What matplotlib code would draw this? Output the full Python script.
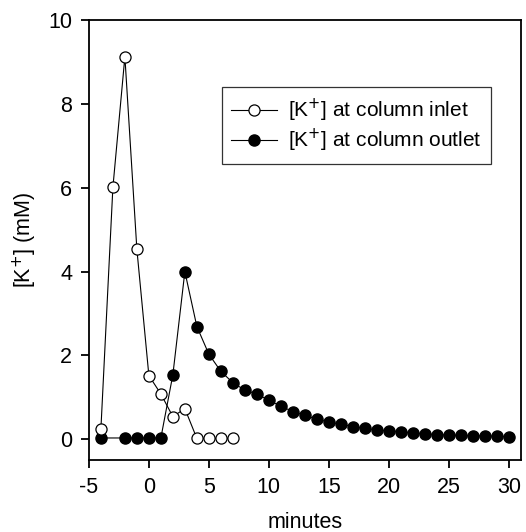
import matplotlib
matplotlib.use("Agg")
import matplotlib.pyplot as plt

plt.rcParams['font.family'] = ['Liberation Sans', 'DejaVu Sans']
plt.rcParams['axes.unicode_minus'] = False

inlet_x = [-4, -3, -2, -1, 0, 1, 2, 3, 4, 5, 6, 7]
inlet_y = [0.24, 6.01, 9.13, 4.53, 1.52, 1.08, 0.54, 0.73, 0.02, 0.02, 0.02, 0.02]

outlet_x = [-4, -2, -1, 0, 1, 2, 3, 4, 5, 6, 7, 8, 9, 10, 11, 12, 13, 14, 15,
            16, 17, 18, 19, 20, 21, 22, 23, 24, 25, 26, 27, 28, 29, 30]
outlet_y = [0.03, 0.03, 0.03, 0.03, 0.03, 1.54, 4.0, 2.69, 2.03, 1.62, 1.35,
            1.17, 1.08, 0.93, 0.79, 0.66, 0.57, 0.48, 0.41, 0.36, 0.30, 0.26,
            0.22, 0.20, 0.18, 0.15, 0.13, 0.11, 0.10, 0.09, 0.08, 0.08, 0.07, 0.06]

xticks = [-5, 0, 5, 10, 15, 20, 25, 30]
yticks = [0, 2, 4, 6, 8, 10]

fig = plt.figure(figsize=(5.26, 5.32), dpi=100)
ax = fig.add_axes([0.169, 0.135, 0.821, 0.827])

ax.plot(inlet_x, inlet_y, '-o', color='black', lw=0.8, ms=8,
        markerfacecolor='white', markeredgecolor='black', markeredgewidth=0.9,
        label='[K$^{+}$] at column inlet', zorder=3)
ax.plot(outlet_x, outlet_y, '-o', color='black', lw=0.8, ms=8,
        markerfacecolor='black', markeredgecolor='black',
        label='[K$^{+}$] at column outlet', zorder=2)

ax.set_xlim(-5, 31)
ax.set_ylim(-0.5, 10)
ax.set_xticks(xticks)
ax.set_yticks(yticks)
ax.tick_params(direction='out', length=6, width=1.3, labelsize=15.5, pad=6)
for s in ax.spines.values():
    s.set_linewidth(1.3)

ax.set_xlabel('minutes', fontsize=15.5, labelpad=10)
ax.set_ylabel('[K$^{+}$] (mM)', fontsize=15.5, labelpad=7)

leg = ax.legend(loc='upper left', bbox_to_anchor=(0.308, 0.848), borderaxespad=0,
                fontsize=15, fancybox=False, edgecolor='#333333', framealpha=1,
                handlelength=2.2, borderpad=0.45, labelspacing=0.15, handletextpad=0.5)
leg.get_frame().set_linewidth(0.9)

fig.savefig('out.png', dpi=100)
